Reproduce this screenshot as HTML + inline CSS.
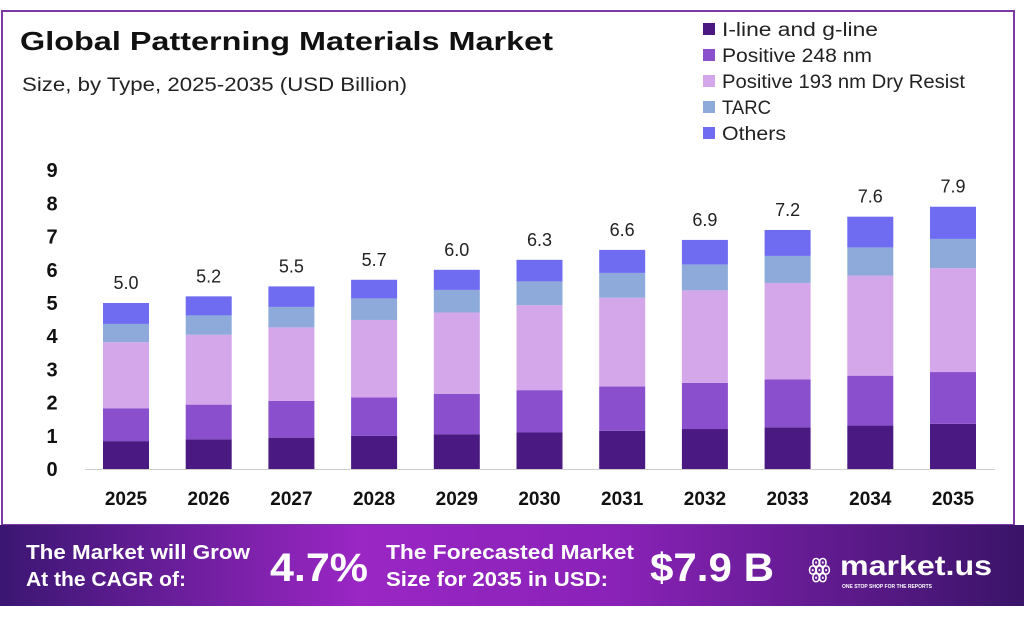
<!DOCTYPE html>
<html><head><meta charset="utf-8"><style>
body{margin:0;width:1024px;height:616px;background:#fff;overflow:hidden;font-family:"Liberation Sans",sans-serif}
</style></head><body>
<svg id="s" width="1024" height="616" xmlns="http://www.w3.org/2000/svg" font-family="Liberation Sans, sans-serif">
<defs>
<linearGradient id="g" x1="0" x2="1" y1="0" y2="0">
<stop offset="0" stop-color="#3b1672"/><stop offset="0.35" stop-color="#9a26c4"/><stop offset="0.6" stop-color="#8a22b8"/><stop offset="1" stop-color="#3a1468"/>
</linearGradient>
</defs>
<rect x="2" y="11" width="1012" height="514" fill="none" stroke="#7b3aa6" stroke-width="2"/>
<text x="20" y="50" font-size="26" font-weight="bold" fill="#111" textLength="533" lengthAdjust="spacingAndGlyphs">Global Patterning Materials Market</text>
<text x="22" y="91" font-size="19" fill="#222" textLength="385" lengthAdjust="spacingAndGlyphs">Size, by Type, 2025-2035 (USD Billion)</text>
<g font-size="19" fill="#222">
<rect x="703" y="23" width="12" height="12" fill="#4a1a82"/><text x="722" y="36" textLength="156" lengthAdjust="spacingAndGlyphs">I-line and g-line</text>
<rect x="703" y="49" width="12" height="12" fill="#8a4fcc"/><text x="722" y="62" textLength="150" lengthAdjust="spacingAndGlyphs">Positive 248 nm</text>
<rect x="703" y="75" width="12" height="12" fill="#d4a6ea"/><text x="722" y="88" textLength="243" lengthAdjust="spacingAndGlyphs">Positive 193 nm Dry Resist</text>
<rect x="703" y="101" width="12" height="12" fill="#8eaadb"/><text x="722" y="114" textLength="49" lengthAdjust="spacingAndGlyphs">TARC</text>
<rect x="703" y="127" width="12" height="12" fill="#6f6cf2"/><text x="722" y="140" textLength="64" lengthAdjust="spacingAndGlyphs">Others</text>
</g>
<g id="ax" font-size="20" font-weight="bold" fill="#111"></g>
<line x1="85" y1="469.5" x2="995" y2="469.5" stroke="#ccc" stroke-width="1"/>
<g id="bars"></g>
<rect x="0" y="525" width="1024" height="81" fill="url(#g)"/>
<g fill="#fff" font-weight="bold">
<text x="26" y="559" font-size="20" textLength="224" lengthAdjust="spacingAndGlyphs">The Market will Grow</text>
<text x="26" y="586" font-size="20" textLength="160" lengthAdjust="spacingAndGlyphs">At the CAGR of:</text>
<text x="270" y="581" font-size="40" textLength="98" lengthAdjust="spacingAndGlyphs">4.7%</text>
<text x="386" y="559" font-size="20" textLength="248" lengthAdjust="spacingAndGlyphs">The Forecasted Market</text>
<text x="386" y="586" font-size="20" textLength="222" lengthAdjust="spacingAndGlyphs">Size for 2035 in USD:</text>
<text x="650" y="581" font-size="40" textLength="124" lengthAdjust="spacingAndGlyphs">$7.9 B</text>
<text x="808" y="577" font-size="26" font-weight="normal">ꙮ</text>
<text x="840" y="575" font-size="28" textLength="152" lengthAdjust="spacingAndGlyphs">market.us</text>
<text x="842" y="588" font-size="5">ONE STOP SHOP FOR THE REPORTS</text>
</g>
</svg>
<script>
var ns="http://www.w3.org/2000/svg";
function el(t,a,txt,p){var e=document.createElementNS(ns,t);for(var k in a)e.setAttribute(k,a[k]);if(txt!=null)e.textContent=txt;document.getElementById(p).appendChild(e);}
var y0=469,u=33.2;
for(var v=0;v<=9;v++)el("text",{x:52,y:y0-v*u+7,"text-anchor":"middle"},""+v,"ax");
var tot=[5.0,5.2,5.5,5.7,6.0,6.3,6.6,6.9,7.2,7.6,7.9];
var a=[0.84,1.83,3.82,4.37],b=[1.36,2.92,6.05,6.93];
var cols=["#4a1a82","#8a4fcc","#d4a6ea","#8eaadb","#6f6cf2"];
for(var i=0;i<11;i++){
 var x=103+82.7*i,f=i/10;
 var c=[0];for(var j=0;j<4;j++)c.push(a[j]+(b[j]-a[j])*f);c.push(tot[i]);
 for(var j=0;j<5;j++)el("rect",{x:x,y:y0-c[j+1]*u,width:46,height:(c[j+1]-c[j])*u,fill:cols[j]},null,"bars");
 el("text",{x:x+23,y:y0-tot[i]*u-14,"text-anchor":"middle","font-size":"18",fill:"#222"},tot[i].toFixed(1),"bars");
 el("text",{x:x+23,y:505,"text-anchor":"middle","font-size":"19","font-weight":"bold",fill:"#111"},""+(2025+i),"bars");
}
</script>
</body></html>
